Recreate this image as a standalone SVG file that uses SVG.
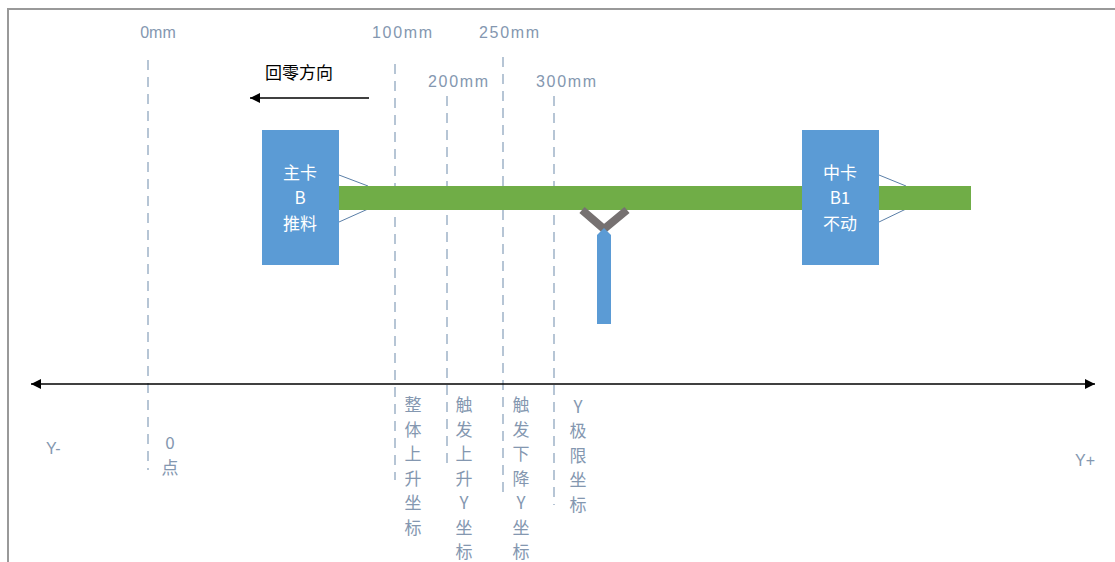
<svg xmlns="http://www.w3.org/2000/svg" width="1115" height="562" viewBox="0 0 1115 562">
<defs>
<style>
.lbl{font-family:"Liberation Sans","Noto Sans CJK SC",sans-serif;fill:#8497b0;font-size:16px;}
.vt{font-family:"Noto Sans CJK SC","Liberation Sans",sans-serif;fill:#8497b0;font-size:17px;text-anchor:middle;}
.box{fill:#5b9bd5;}
.bt{font-family:"Noto Sans CJK SC","Liberation Sans",sans-serif;fill:#ffffff;font-size:17px;text-anchor:middle;}
.dash{stroke:#9fb3c8;stroke-width:1.5;stroke-dasharray:10,7;fill:none;}
.thin{stroke:#5b7fa8;stroke-width:1;fill:none;}
</style>
<marker id="ah" viewBox="0 0 10 10" refX="10" refY="5" markerWidth="14" markerHeight="10" markerUnits="userSpaceOnUse" orient="auto-start-reverse">
<path d="M0,0 L10,5 L0,10 z" fill="#000"/>
</marker>
</defs>
<rect width="1115" height="562" fill="#fff"/>
<path d="M8,580 L8,9 L1120,9" stroke="#999" stroke-width="2" fill="none"/>

<g id="guides">
<line class="dash" x1="148" y1="60" x2="148" y2="470"/>
<line class="dash" x1="395" y1="64" x2="395" y2="480"/>
<line class="dash" x1="447" y1="96" x2="447" y2="470"/>
<line class="dash" x1="503" y1="57" x2="503" y2="492"/>
<line class="dash" x1="554" y1="96" x2="554" y2="505"/>
</g>

<g id="dim-labels">
<text class="lbl" x="158" y="38" text-anchor="middle">0mm</text>
<text class="lbl" x="402" y="38" text-anchor="middle" textLength="60">100mm</text>
<text class="lbl" x="509" y="38" text-anchor="middle" textLength="60">250mm</text>
<text class="lbl" x="458" y="87" text-anchor="middle" textLength="60">200mm</text>
<text class="lbl" x="566" y="87" text-anchor="middle" textLength="60">300mm</text>
</g>

<g id="connectors">
<line x1="369" y1="98" x2="250" y2="98" stroke="#000" stroke-width="1.5" marker-end="url(#ah)"/>
<line x1="31" y1="384" x2="1095" y2="384" stroke="#000" stroke-width="1.5" marker-start="url(#ah)" marker-end="url(#ah)"/>
<line class="thin" x1="339" y1="175" x2="368" y2="186"/>
<line class="thin" x1="339" y1="222" x2="368" y2="209"/>
<line class="thin" x1="879" y1="175" x2="906" y2="186"/>
<line class="thin" x1="879" y1="222" x2="906" y2="209"/>
</g>

<g id="direction-label">
<text x="299" y="79" text-anchor="middle" font-family="Noto Sans CJK SC, Liberation Sans, sans-serif" font-size="17" fill="#000">回零方向</text>
</g>

<g id="bar">
<rect x="339" y="186" width="632" height="24" fill="#70ad47"/>
</g>

<g id="fork">
<path d="M582,210 L604,229 L627,210" stroke="#767171" stroke-width="8" fill="none"/>
<path d="M597,235 L604,228 L611,235 L611,324 L597,324 z" fill="#5b9bd5"/>
</g>

<g id="card-main">
<rect class="box" x="262" y="130" width="77" height="135"/>
<text class="bt" x="300" y="179">主卡</text>
<text class="bt" x="300" y="204">B</text>
<text class="bt" x="300" y="230">推料</text>
</g>

<g id="card-mid">
<rect class="box" x="802" y="130" width="77" height="135"/>
<text class="bt" x="840" y="179">中卡</text>
<text class="bt" x="840" y="204">B1</text>
<text class="bt" x="840" y="230">不动</text>
</g>

<g id="axis-labels">
<text class="lbl" x="46" y="454" font-size="14">Y-</text>
<text class="lbl" x="1075" y="466" font-size="14">Y+</text>
<text class="vt" x="170" y="449">0</text>
<text class="vt" x="170" y="474">点</text>
</g>

<g id="col1">
<text class="vt" x="413" y="411">整</text>
<text class="vt" x="413" y="436">体</text>
<text class="vt" x="413" y="460">上</text>
<text class="vt" x="413" y="485">升</text>
<text class="vt" x="413" y="509">坐</text>
<text class="vt" x="413" y="534">标</text>
</g>
<g id="col2">
<text class="vt" x="464" y="411">触</text>
<text class="vt" x="464" y="436">发</text>
<text class="vt" x="464" y="460">上</text>
<text class="vt" x="464" y="485">升</text>
<text class="vt" x="464" y="509">Y</text>
<text class="vt" x="464" y="534">坐</text>
<text class="vt" x="464" y="558">标</text>
</g>
<g id="col3">
<text class="vt" x="521" y="411">触</text>
<text class="vt" x="521" y="436">发</text>
<text class="vt" x="521" y="460">下</text>
<text class="vt" x="521" y="485">降</text>
<text class="vt" x="521" y="509">Y</text>
<text class="vt" x="521" y="534">坐</text>
<text class="vt" x="521" y="558">标</text>
</g>
<g id="col4">
<text class="vt" x="578" y="413">Y</text>
<text class="vt" x="578" y="437">极</text>
<text class="vt" x="578" y="462">限</text>
<text class="vt" x="578" y="486">坐</text>
<text class="vt" x="578" y="511">标</text>
</g>
</svg>
